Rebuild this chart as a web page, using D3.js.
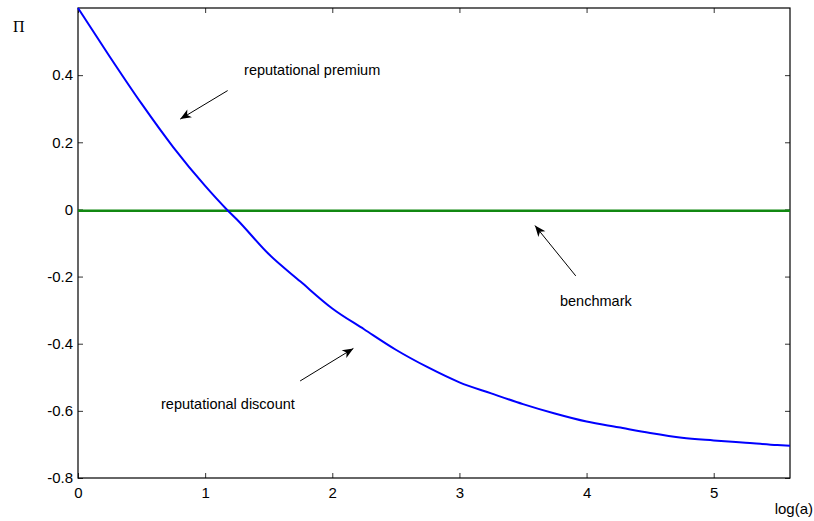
<!DOCTYPE html>
<html>
<head>
<meta charset="utf-8">
<script src="https://cdn.jsdelivr.net/npm/d3@7"></script>
<style>
  body { margin: 0; background: #fff; }
  text { font-family: "Liberation Sans", Arial, sans-serif; }
</style>
</head>
<body>
<svg id="chart" width="814" height="521"></svg>
<script>
// values
var logA    = [0, 0.25, 0.5, 0.75, 1.0, 1.17, 1.25, 1.5, 1.75, 2.0, 2.25, 2.5, 2.75, 3.0,
               3.25, 3.5, 3.75, 4.0, 4.25, 4.5, 4.75, 5.0, 5.25, 5.5, 5.6];
var premium = [0.60, 0.455, 0.315, 0.185, 0.07, 0, -0.03, -0.133, -0.215, -0.295, -0.357,
               -0.418, -0.47, -0.515, -0.548, -0.58, -0.608, -0.632, -0.649, -0.666, -0.68,
               -0.688, -0.695, -0.702, -0.704];
var benchX  = [0, 5.6];
var benchY  = [-0.004, -0.004];

var xTicks = [0, 1, 2, 3, 4, 5];
var yTicks = [-0.8, -0.6, -0.4, -0.2, 0, 0.2, 0.4];
var yTickLabels = ['-0.8', '-0.6', '-0.4', '-0.2', '0', '0.2', '0.4'];

// annotations in data units
var noteText = ['reputational premium', 'benchmark', 'reputational discount'];
var noteX    = [1.306, 3.791, 0.653];
var noteY    = [0.40, -0.288, -0.594];
var arrowFrom = [[1.177, 0.354], [3.915, -0.198], [1.747, -0.511]];
var arrowTo   = [[0.804, 0.269], [3.594, -0.048], [2.166, -0.414]];

(function() {
  'use strict';
  var svg = d3.select('#chart');
  var m = {left: 78, right: 24, top: 8, bottom: 43};
  var W = 814, H = 521;

  var x = d3.scaleLinear().domain([0, 5.6]).range([m.left, W - m.right]);
  var y = d3.scaleLinear().domain([-0.8, 0.6]).range([H - m.bottom, m.top]);

  var defs = svg.append('defs');
  defs.append('marker')
    .attr('id', 'head')
    .attr('markerUnits', 'userSpaceOnUse')
    .attr('viewBox', '-12 -6 13 12')
    .attr('refX', 0).attr('refY', 0)
    .attr('markerWidth', 13).attr('markerHeight', 12)
    .attr('orient', 'auto')
    .append('path')
    .attr('d', 'M0,0 L-11,-4.5 L-8,0 L-11,4.5 Z')
    .attr('fill', '#000');

  // axes, ticks inward on all four sides
  var fmt = function(d) { return yTickLabels[yTicks.indexOf(d)]; };
  var gl = svg.append('g').attr('transform', 'translate(' + x.range()[0] + ',0)')
    .call(d3.axisLeft(y).tickValues(yTicks).tickFormat(fmt).tickSize(-5).tickPadding(5));
  var gb = svg.append('g').attr('transform', 'translate(0,' + y.range()[0] + ')')
    .call(d3.axisBottom(x).tickValues(xTicks).tickFormat(d3.format('d')).tickSize(-5).tickPadding(9));
  var gt = svg.append('g').attr('transform', 'translate(0,' + y.range()[1] + ')')
    .call(d3.axisTop(x).tickValues(xTicks).tickFormat('').tickSize(-5));
  var gr = svg.append('g').attr('transform', 'translate(' + x.range()[1] + ',0)')
    .call(d3.axisRight(y).tickValues(yTicks).tickFormat('').tickSize(-5));

  [gl, gb, gt, gr].forEach(function(g) {
    g.select('.domain').remove();
    g.selectAll('.tick line').attr('stroke', '#333');
    g.selectAll('text').attr('font-size', 15).attr('fill', '#000')
      .style('font-family', '"Liberation Sans", Arial, sans-serif');
  });

  svg.append('rect')
    .attr('x', x.range()[0]).attr('y', y.range()[1])
    .attr('width', x.range()[1] - x.range()[0])
    .attr('height', y.range()[0] - y.range()[1])
    .attr('fill', 'none').attr('stroke', '#000').attr('stroke-width', 1.2);

  // benchmark
  svg.append('path')
    .datum(d3.zip(benchX, benchY))
    .attr('d', d3.line().x(function(d) { return x(d[0]); }).y(function(d) { return y(d[1]); }))
    .attr('stroke', '#118811').attr('stroke-width', 2.5).attr('fill', 'none');

  // premium curve
  svg.append('path')
    .datum(d3.zip(logA, premium))
    .attr('d', d3.line().curve(d3.curveMonotoneX)
      .x(function(d) { return x(d[0]); }).y(function(d) { return y(d[1]); }))
    .attr('stroke', '#0000ff').attr('stroke-width', 2).attr('fill', 'none');

  // annotations
  for (var i = 0; i < noteText.length; i++) {
    svg.append('text')
      .attr('x', x(noteX[i])).attr('y', y(noteY[i]))
      .attr('font-size', 14.5).text(noteText[i]);
    svg.append('line')
      .attr('x1', x(arrowFrom[i][0])).attr('y1', y(arrowFrom[i][1]))
      .attr('x2', x(arrowTo[i][0])).attr('y2', y(arrowTo[i][1]))
      .attr('stroke', '#000').attr('stroke-width', 1)
      .attr('marker-end', 'url(#head)');
  }

  // axis labels
  svg.append('text')
    .attr('x', 13).attr('y', 32)
    .attr('font-size', 16)
    .style('font-family', '"Liberation Serif", "Times New Roman", serif')
    .text('\u03A0');
  svg.append('text')
    .attr('x', 813).attr('y', 514)
    .attr('text-anchor', 'end')
    .attr('font-size', 15)
    .text('log(a)');
})();
</script>
</body>
</html>
